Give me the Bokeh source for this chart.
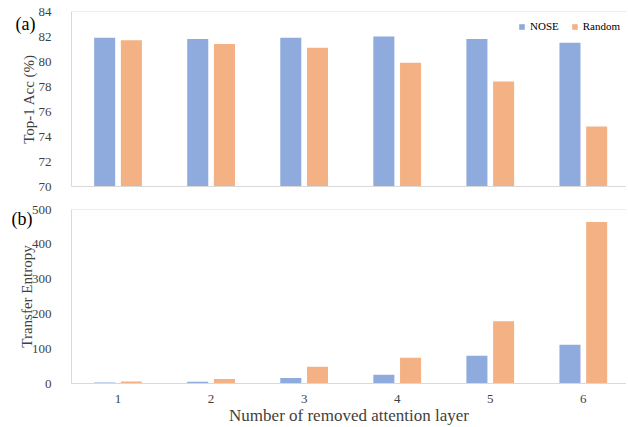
from bokeh.plotting import figure
from bokeh.layouts import column
from bokeh.models import (ColumnDataSource, FixedTicker, Range1d, Span, Legend, LegendItem,
                          LinearAxis)
from bokeh.transform import dodge
from bokeh.embed import file_html
from bokeh.resources import INLINE

# ---- data ----
layers = [1, 2, 3, 4, 5, 6]
nose_acc = [81.9, 81.8, 81.9, 82.0, 81.8, 81.5]
random_acc = [81.7, 81.4, 81.1, 79.9, 78.4, 74.8]
nose_te = [3, 5, 16, 25, 80, 111]
random_te = [6, 13, 48, 74, 179, 464]
series_names = ["NOSE", "Random"]
acc_ticks = [70, 72, 74, 76, 78, 80, 82, 84]
te_ticks = [0, 100, 200, 300, 400, 500]
panel_tags = ["(a)", "(b)"]

BLUE = "#8FAADC"
ORANGE = "#F4B183"
FONT = "Liberation Serif"
TXT = "#3f3f3f"
GRID = "#d9d9d9"

src = ColumnDataSource(dict(x=layers, nose_acc=nose_acc, random_acc=random_acc,
                            nose_te=nose_te, random_te=random_te))

OFF = 0.1435
BW = 0.226
XR = (0.5, 6.464)


def style(p, yticks):
    p.outline_line_color = None
    p.xgrid.visible = False
    p.ygrid.visible = False
    for ax in p.yaxis:
        ax.ticker = FixedTicker(ticks=yticks)
        ax.axis_line_color = GRID
        ax.major_tick_line_color = None
        ax.minor_tick_line_color = None
        ax.major_label_standoff = 14
        ax.major_label_text_font = FONT
        ax.major_label_text_font_size = "13px"
        ax.major_label_text_color = TXT
        ax.axis_label_text_font = FONT
        ax.axis_label_text_font_size = "15px"
        ax.axis_label_text_font_style = "normal"
        ax.axis_label_text_color = TXT
    for ax in p.xaxis:
        ax.axis_line_color = GRID
        ax.major_tick_line_color = None
        ax.minor_tick_line_color = None
        ax.major_label_text_font = FONT
        ax.major_label_text_font_size = "13px"
        ax.major_label_text_color = TXT
        ax.axis_label_text_font = FONT
        ax.axis_label_text_font_size = "17px"
        ax.axis_label_text_font_style = "normal"
        ax.axis_label_text_color = TXT


def add_tag(p, tag, yval, standoff):
    ax = LinearAxis(ticker=FixedTicker(ticks=[yval]),
                    major_label_overrides={yval: tag},
                    axis_line_color=None, major_tick_line_color=None,
                    minor_tick_line_color=None, major_label_standoff=standoff,
                    major_label_text_font=FONT, major_label_text_font_size="18px",
                    major_label_text_color="#000000")
    p.add_layout(ax, "left")


# ---- top: accuracy ----
p1 = figure(width=626, height=194, output_backend="svg", toolbar_location=None,
            x_range=Range1d(*XR), y_range=Range1d(70, 84),
            min_border_left=71, min_border_right=0, min_border_top=11, min_border_bottom=8)
r1 = p1.vbar(x=dodge("x", -OFF), top="nose_acc", bottom=70, width=BW, source=src,
             fill_color=BLUE, line_color=None)
r2 = p1.vbar(x=dodge("x", OFF), top="random_acc", bottom=70, width=BW, source=src,
             fill_color=ORANGE, line_color=None)
style(p1, acc_ticks)
p1.xaxis.ticker = FixedTicker(ticks=[])
p1.xaxis.major_label_text_font_size = "0px"
p1.yaxis.axis_label = "Top-1 Acc (%)"
p1.yaxis.axis_label_standoff = -1
p1.add_layout(Span(location=84, dimension="width", line_color=GRID, line_width=1))
add_tag(p1, panel_tags[0], 83, -24)
legend = Legend(items=[LegendItem(label=series_names[0], renderers=[r1]),
                       LegendItem(label=series_names[1], renderers=[r2])],
                orientation="horizontal", location=(447, 154),
                glyph_width=7, glyph_height=7, label_standoff=5, spacing=12,
                padding=3, margin=0, border_line_color=None, background_fill_alpha=0,
                label_text_font=FONT, label_text_font_size="11px", label_text_color="#000000")
p1.add_layout(legend, "center")

# ---- bottom: transfer entropy ----
p2 = figure(width=626, height=233, output_backend="svg", toolbar_location=None,
            x_range=Range1d(*XR), y_range=Range1d(0, 500),
            min_border_left=71, min_border_right=0, min_border_top=15, min_border_bottom=0)
p2.vbar(x=dodge("x", -OFF), top="nose_te", bottom=0, width=BW, source=src,
        fill_color=BLUE, line_color=None)
p2.vbar(x=dodge("x", OFF), top="random_te", bottom=0, width=BW, source=src,
        fill_color=ORANGE, line_color=None)
style(p2, te_ticks)
p2.xaxis.ticker = FixedTicker(ticks=layers)
p2.xaxis.major_label_standoff = 5
p2.xaxis.axis_label = "Number of removed attention layer"
p2.xaxis.axis_label_standoff = 0
p2.yaxis.axis_label = "Transfer Entropy"
p2.yaxis.axis_label_standoff = -6
p2.add_layout(Span(location=500, dimension="width", line_color=GRID, line_width=1))
add_tag(p2, panel_tags[1], 474, -23)

layout = column(p1, p2, spacing=0)
open("out.html", "w").write(file_html(layout, INLINE))
